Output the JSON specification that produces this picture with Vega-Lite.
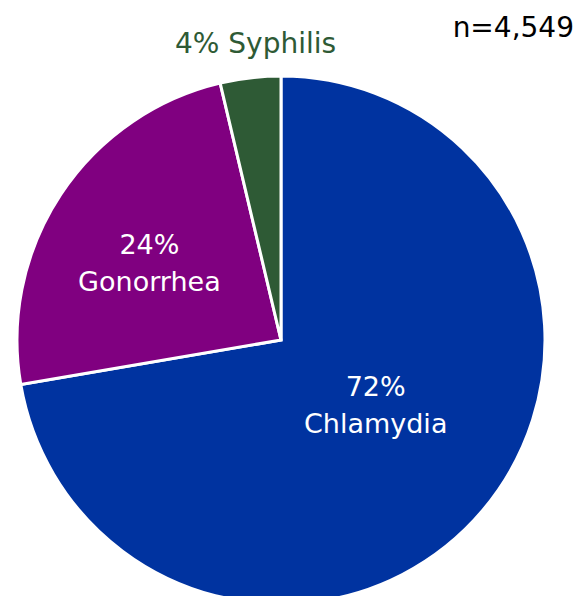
{
  "$schema": "https://vega.github.io/schema/vega-lite/v6.json",
  "autosize": "none",
  "width": 528,
  "height": 528,
  "padding": {"left": 17, "top": 76, "right": 42, "bottom": 0},
  "background": "white",
  "config": {"view": {"stroke": null}, "font": "DejaVu Sans"},
  "title": {"text": "n=4,549", "anchor": "end", "frame": "group", "dx": 29, "offset": -12, "fontSize": 28, "font": "DejaVu Sans", "fontWeight": "normal", "color": "black"},
  "data": {"values": [
    {"cause": "Chlamydia", "value": 72.3, "rank": 1, "label": "72%\nChlamydia"},
    {"cause": "Gonorrhea", "value": 24.0, "rank": 2, "label": "24%\nGonorrhea"},
    {"cause": "Syphilis", "value": 3.7, "rank": 3, "label": "4% Syphilis"}
  ]},
  "encoding": {
    "theta": {"field": "value", "type": "quantitative", "stack": true},
    "order": {"field": "rank", "type": "quantitative", "sort": "ascending"}
  },
  "layer": [
    {
      "mark": {"type": "arc", "outerRadius": 264, "stroke": "white", "strokeWidth": 3},
      "encoding": {
        "color": {"field": "cause", "type": "nominal", "legend": null,
          "scale": {"domain": ["Chlamydia", "Gonorrhea", "Syphilis"], "range": ["#0033A0", "#800080", "#2E5A35"]}}
      }
    },
    {
      "mark": {"type": "text", "radius": 116, "dx": 6, "dy": -27, "fontSize": 27, "fill": "white", "lineBreak": "\n", "lineHeight": 37, "align": "center", "baseline": "middle"},
      "encoding": {"text": {"condition": {"test": "datum.cause === 'Chlamydia'", "field": "label"}, "value": ""}}
    },
    {
      "mark": {"type": "text", "radius": 153, "dx": -4, "dy": -10, "fontSize": 27, "fill": "white", "lineBreak": "\n", "lineHeight": 37, "align": "center", "baseline": "middle"},
      "encoding": {"text": {"condition": {"test": "datum.cause === 'Gonorrhea'", "field": "label"}, "value": ""}}
    },
    {
      "mark": {"type": "text", "radius": 297, "dx": 9, "fontSize": 28, "fill": "#2E5A35", "align": "center", "baseline": "middle"},
      "encoding": {"text": {"condition": {"test": "datum.cause === 'Syphilis'", "field": "label"}, "value": ""}}
    }
  ]
}
